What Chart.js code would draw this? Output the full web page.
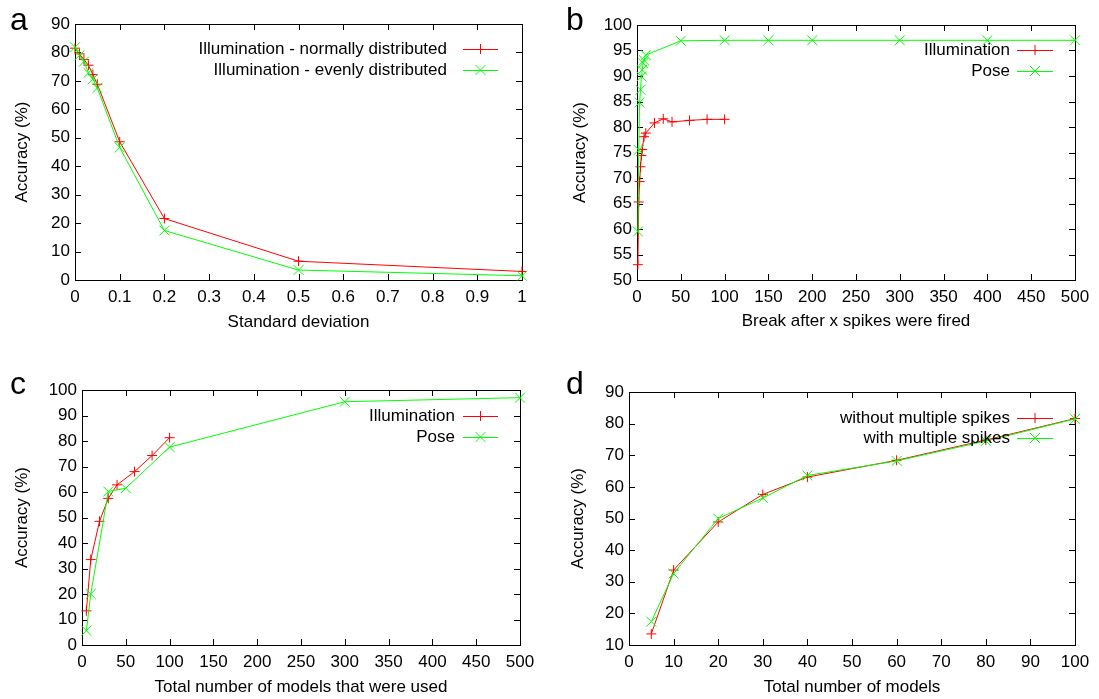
<!DOCTYPE html>
<html>
<head>
<meta charset="utf-8">
<script src="https://cdn.jsdelivr.net/npm/chart.js@4.4.0/dist/chart.umd.min.js"></script>
<style>
  body { margin: 0; background: #fff; width: 1099px; height: 699px; overflow: hidden; position: relative; font-family: "Liberation Sans", Arial, sans-serif; }
  .panel { position: absolute; }
  .panel canvas { display: block; }
  .letter { position: absolute; font-size: 32px; line-height: 32px; color: #000; }
</style>
</head>
<body>
<div class="panel" style="left:0;top:0"><canvas id="chartA" width="549" height="350"></canvas></div>
<div class="panel" style="left:549px;top:0"><canvas id="chartB" width="550" height="350"></canvas></div>
<div class="panel" style="left:0;top:350px"><canvas id="chartC" width="549" height="349"></canvas></div>
<div class="panel" style="left:549px;top:350px"><canvas id="chartD" width="550" height="349"></canvas></div>
<div class="letter" style="left:10px;top:3px">a</div>
<div class="letter" style="left:566px;top:3px">b</div>
<div class="letter" style="left:10px;top:367px">c</div>
<div class="letter" style="left:566px;top:367px">d</div>
<script>
// panel a
var aX = [0, 0.01, 0.02, 0.03, 0.04, 0.05, 0.1, 0.2, 0.5, 1];
var aNormal = [81.5, 79.5, 77.5, 75.5, 72.2, 68.8, 48.6, 21.6, 6.6, 3];
var aEven = [81.8, 79, 76.8, 72.8, 70.6, 67.5, 46.6, 17.4, 3.5, 1.5];
var aXTicks = [0, 0.1, 0.2, 0.3, 0.4, 0.5, 0.6, 0.7, 0.8, 0.9, 1];
var aYTicks = [0, 10, 20, 30, 40, 50, 60, 70, 80, 90];

// panel b
var bIllumX = [1, 2, 3, 4, 5, 6, 8, 10, 20, 30, 40, 60, 80, 100];
var bIllum = [53, 65.3, 69.3, 72.2, 74.4, 75.6, 78.1, 78.8, 80.8, 81.6, 81, 81.3, 81.5, 81.5];
var bPoseX = [1, 2, 3, 4, 5, 6, 7, 8, 10, 50, 100, 150, 200, 300, 400, 500];
var bPose = [59.5, 75.5, 84.8, 87.3, 89.9, 91.2, 92.5, 93.1, 94.1, 96.9, 97, 97, 97, 97, 97, 97];
var bXTicks = [0, 50, 100, 150, 200, 250, 300, 350, 400, 450, 500];
var bYTicks = [50, 55, 60, 65, 70, 75, 80, 85, 90, 95, 100];

// panel c
var cIllumX = [5, 10, 20, 30, 40, 60, 80, 100];
var cIllum = [13.4, 33.5, 48.5, 57.5, 62.8, 68, 74.3, 81.3];
var cPoseX = [5, 10, 30, 50, 100, 300, 500];
var cPose = [5.6, 20, 60.2, 61.5, 77.6, 95.4, 97];
var cXTicks = [0, 50, 100, 150, 200, 250, 300, 350, 400, 450, 500];
var cYTicks = [0, 10, 20, 30, 40, 50, 60, 70, 80, 90, 100];

// panel d
var dX = [5, 10, 20, 30, 40, 60, 80, 100];
var dWithout = [13.5, 33.7, 48.9, 57.6, 63.1, 68.4, 74.8, 81.6];
var dWith = [17.4, 32.6, 50, 56.5, 63.6, 68.2, 74.5, 81.5];
var dXTicks = [0, 10, 20, 30, 40, 50, 60, 70, 80, 90, 100];
var dYTicks = [10, 20, 30, 40, 50, 60, 70, 80, 90];

var RED = '#ff0000';
var GREEN = '#00ff00';
var FONT = '"Liberation Sans", Arial, sans-serif';

Chart.defaults.font.family = FONT;
Chart.defaults.font.size = 17;
Chart.defaults.color = '#000';

function points(xs, ys) {
    var out = [];
    for (var i = 0; i < xs.length; i++) {
        out.push({ x: xs[i], y: ys[i] });
    }
    return out;
}

function series(label, xs, ys, color, style, radius, order) {
    return {
        label: label,
        data: points(xs, ys),
        showLine: true,
        borderColor: color,
        backgroundColor: color,
        borderWidth: 1,
        pointStyle: style,
        pointRadius: radius,
        pointBorderWidth: 1,
        pointBorderColor: color,
        order: order,
        clip: false
    };
}

// border box with inward ticks on all four sides, like gnuplot
var frame = {
    id: 'frame',
    beforeDatasetsDraw(chart) {
        var ctx = chart.ctx;
        var a = chart.chartArea;
        var len = 6;
        ctx.save();
        ctx.strokeStyle = '#000';
        ctx.lineWidth = 1;
        ctx.beginPath();
        chart.scales.x.ticks.forEach(function (t) {
            var px = Math.round(chart.scales.x.getPixelForValue(t.value)) + 0.5;
            ctx.moveTo(px, a.bottom); ctx.lineTo(px, a.bottom - len);
            ctx.moveTo(px, a.top); ctx.lineTo(px, a.top + len);
        });
        chart.scales.y.ticks.forEach(function (t) {
            var py = Math.round(chart.scales.y.getPixelForValue(t.value)) + 0.5;
            ctx.moveTo(a.left, py); ctx.lineTo(a.left + len, py);
            ctx.moveTo(a.right, py); ctx.lineTo(a.right - len, py);
        });
        ctx.stroke();
        ctx.strokeRect(Math.round(a.left) + 0.5, Math.round(a.top) + 0.5,
            Math.round(a.right - a.left), Math.round(a.bottom - a.top));
        ctx.restore();
    }
};

// key: right-aligned text, then a line sample with the marker on it
var gnuLegend = {
    id: 'gnuLegend',
    afterDatasetsDraw(chart, args, opts) {
        var ctx = chart.ctx;
        ctx.save();
        ctx.font = '17px ' + FONT;
        ctx.textAlign = 'right';
        ctx.textBaseline = 'middle';
        chart.data.datasets.forEach(function (ds, i) {
            var y = opts.rows[i];
            ctx.fillStyle = '#000';
            ctx.fillText(ds.label, opts.textRight, y);
            ctx.strokeStyle = ds.borderColor;
            ctx.lineWidth = 1;
            ctx.beginPath();
            ctx.moveTo(opts.x0, y + 0.5);
            ctx.lineTo(opts.x1, y + 0.5);
            var cx = (opts.x0 + opts.x1) / 2;
            var r;
            if (ds.pointStyle == 'cross') {
                r = ds.pointRadius;
                ctx.moveTo(cx - r, y + 0.5); ctx.lineTo(cx + r, y + 0.5);
                ctx.moveTo(cx, y - r); ctx.lineTo(cx, y + r);
            } else {
                r = ds.pointRadius * Math.SQRT1_2;
                ctx.moveTo(cx - r, y - r); ctx.lineTo(cx + r, y + r);
                ctx.moveTo(cx - r, y + r); ctx.lineTo(cx + r, y - r);
            }
            ctx.stroke();
        });
        ctx.restore();
    }
};

function makeChart(id, o) {
    return new Chart(id, {
        type: 'scatter',
        data: { datasets: o.datasets },
        options: {
            responsive: false,
            animation: false,
            events: [],
            layout: {
                padding: { left: 0, bottom: 0, top: o.plot.top, right: o.width - o.plot.right }
            },
            plugins: {
                legend: { display: false },
                tooltip: { enabled: false },
                gnuLegend: o.legend
            },
            scales: {
                x: {
                    type: 'linear',
                    min: o.xTicks[0],
                    max: o.xTicks[o.xTicks.length - 1],
                    afterBuildTicks: function (s) {
                        s.ticks = o.xTicks.map(function (v) { return { value: v }; });
                    },
                    afterFit: function (s) {
                        s.height = o.height - o.plot.bottom;
                        s.paddingLeft = 0;
                        s.paddingRight = 0;
                    },
                    grid: { display: false, drawTicks: false },
                    border: { display: false },
                    ticks: {
                        padding: 7,
                        maxRotation: 0,
                        autoSkip: false,
                        callback: function (v) { return String(v); }
                    },
                    title: {
                        display: true,
                        text: o.xTitle,
                        padding: { top: 0, bottom: o.xTitlePad }
                    }
                },
                y: {
                    type: 'linear',
                    min: o.yTicks[0],
                    max: o.yTicks[o.yTicks.length - 1],
                    afterBuildTicks: function (s) {
                        s.ticks = o.yTicks.map(function (v) { return { value: v }; });
                    },
                    afterFit: function (s) {
                        s.width = o.plot.left;
                        s.paddingTop = 0;
                        s.paddingBottom = 0;
                    },
                    grid: { display: false, drawTicks: false },
                    border: { display: false },
                    ticks: {
                        padding: 5,
                        autoSkip: false,
                        callback: function (v) { return String(v); }
                    },
                    title: {
                        display: true,
                        text: 'Accuracy (%)',
                        padding: { top: o.yTitlePad, bottom: 0 }
                    }
                }
            }
        },
        plugins: [frame, gnuLegend]
    });
}

makeChart('chartA', {
    width: 549, height: 350,
    plot: { left: 75, right: 522, top: 24, bottom: 280 },
    xTicks: aXTicks, yTicks: aYTicks,
    xTitle: 'Standard deviation', xTitlePad: 17, yTitlePad: 12,
    legend: { textRight: 447, x0: 463, x1: 498, rows: [49, 70] },
    datasets: [
        series('Illumination - normally distributed', aX, aNormal, RED, 'cross', 5, 1),
        series('Illumination - evenly distributed', aX, aEven, GREEN, 'crossRot', 7, 0)
    ]
});

makeChart('chartB', {
    width: 550, height: 350,
    plot: { left: 88, right: 526, top: 25, bottom: 280 },
    xTicks: bXTicks, yTicks: bYTicks,
    xTitle: 'Break after x spikes were fired', xTitlePad: 18, yTitlePad: 21,
    legend: { textRight: 461, x0: 468, x1: 504, rows: [50, 71] },
    datasets: [
        series('Illumination', bIllumX, bIllum, RED, 'cross', 5, 1),
        series('Pose', bPoseX, bPose, GREEN, 'crossRot', 7, 0)
    ]
});

makeChart('chartC', {
    width: 549, height: 349,
    plot: { left: 82, right: 520, top: 40, bottom: 295 },
    xTicks: cXTicks, yTicks: cYTicks,
    xTitle: 'Total number of models that were used', xTitlePad: 1, yTitlePad: 12,
    legend: { textRight: 455, x0: 463, x1: 498, rows: [66, 87] },
    datasets: [
        series('Illumination', cIllumX, cIllum, RED, 'cross', 5, 1),
        series('Pose', cPoseX, cPose, GREEN, 'crossRot', 7, 0)
    ]
});

makeChart('chartD', {
    width: 550, height: 349,
    plot: { left: 80, right: 526, top: 42, bottom: 295 },
    xTicks: dXTicks, yTicks: dYTicks,
    xTitle: 'Total number of models', xTitlePad: 1, yTitlePad: 19,
    legend: { textRight: 461, x0: 468, x1: 504, rows: [68, 88] },
    datasets: [
        series('without multiple spikes', dX, dWithout, RED, 'cross', 5, 1),
        series('with multiple spikes', dX, dWith, GREEN, 'crossRot', 7, 0)
    ]
});
</script>
</body>
</html>
